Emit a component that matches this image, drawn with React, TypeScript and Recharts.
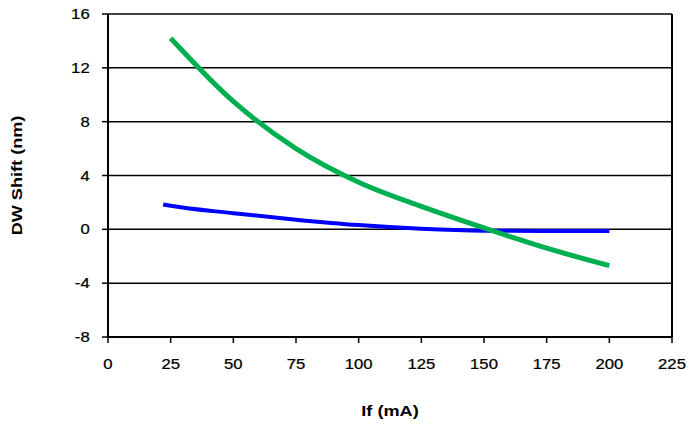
import React from "react";
import {
  LineChart,
  Line,
  XAxis,
  YAxis,
  CartesianGrid,
  ReferenceLine,
  Label
} from "recharts";

// Drive current (mA) vs. wavelength shift (nm)
const blueCurrent = [22, 25, 50, 75, 100, 125, 150, 175, 200];
const blueShift = [1.85, 1.75, 1.2, 0.72, 0.32, 0.05, -0.1, -0.13, -0.13];

const greenCurrent = [25, 50, 75, 100, 125, 150, 175, 200];
const greenShift = [14.2, 9.5, 6.0, 3.5, 1.7, 0.1, -1.4, -2.7];

const xTicks = [0, 25, 50, 75, 100, 125, 150, 175, 200, 225];
const yTicks = [-8, -4, 0, 4, 8, 12, 16];

const blueData = blueCurrent.map((x, i) => ({ x, y: blueShift[i] }));
const greenData = greenCurrent.map((x, i) => ({ x, y: greenShift[i] }));

const FONT = "'Liberation Sans', Arial, sans-serif";

const XTick = (props: any) => {
  const { x, y, payload } = props;
  return (
    <g transform={`translate(${x},${y})`}>
      <text transform="scale(1.15,1)" textAnchor="middle" dy={24} fontSize={14.5} fill="#000" stroke="#000" strokeWidth={0.25} fontFamily={FONT}>
        {payload.value}
      </text>
    </g>
  );
};

const YTick = (props: any) => {
  const { x, y, payload } = props;
  return (
    <g transform={`translate(${x},${y})`}>
      <text transform="scale(1.15,1)" textAnchor="end" dx={-9} dy={5} fontSize={14.5} fill="#000" stroke="#000" strokeWidth={0.25} fontFamily={FONT}>
        {payload.value}
      </text>
    </g>
  );
};

const YTitle = (props: any) => {
  const vb = props.viewBox;
  const cy = vb.y + vb.height / 2;
  return (
    <g transform={`translate(22,${cy}) rotate(-90)`}>
      <text transform="scale(1.25,1)" textAnchor="middle" fontSize={14.5} fontWeight="bold" fill="#000" fontFamily={FONT}>
        DW Shift (nm)
      </text>
    </g>
  );
};

const XTitle = (props: any) => {
  const vb = props.viewBox;
  const cx = vb.x + vb.width / 2;
  return (
    <g transform={`translate(${cx},416)`}>
      <text transform="scale(1.25,1)" textAnchor="middle" fontSize={14.5} fontWeight="bold" fill="#000" fontFamily={FONT}>
        If (mA)
      </text>
    </g>
  );
};

export default function App() {
  return (
    <div style={{ position: "absolute", left: 0, top: 0, background: "#fff" }}>
      <LineChart width={689} height={425} margin={{ top: 14, right: 17, bottom: 0, left: 0 }}>
        <CartesianGrid horizontal vertical={false} stroke="#000" strokeWidth={1.5} strokeOpacity={1} />
        <XAxis
          type="number"
          dataKey="x"
          domain={[0, 225]}
          ticks={xTicks}
          interval={0}
          height={88}
          tick={<XTick />}
          tickSize={6}
          axisLine={{ stroke: "#000", strokeWidth: 2 }}
          tickLine={{ stroke: "#000", strokeWidth: 1.5 }}
          allowDataOverflow
        >
          <Label content={<XTitle />} />
        </XAxis>
        <YAxis
          type="number"
          dataKey="y"
          domain={[-8, 16]}
          ticks={yTicks}
          interval={0}
          width={108}
          tick={<YTick />}
          tickSize={6}
          axisLine={{ stroke: "#000", strokeWidth: 2 }}
          tickLine={{ stroke: "#000", strokeWidth: 1.5 }}
          allowDataOverflow
        >
          <Label content={<YTitle />} />
        </YAxis>
        <ReferenceLine x={225} stroke="#000" strokeWidth={2} />
        <Line
          data={blueData}
          dataKey="y"
          type="monotone"
          stroke="#0000ff"
          strokeWidth={4}
          dot={false}
          isAnimationActive={false}
        />
        <Line
          data={greenData}
          dataKey="y"
          type="monotone"
          stroke="#00b050"
          strokeWidth={5}
          dot={false}
          isAnimationActive={false}
        />
      </LineChart>
    </div>
  );
}
